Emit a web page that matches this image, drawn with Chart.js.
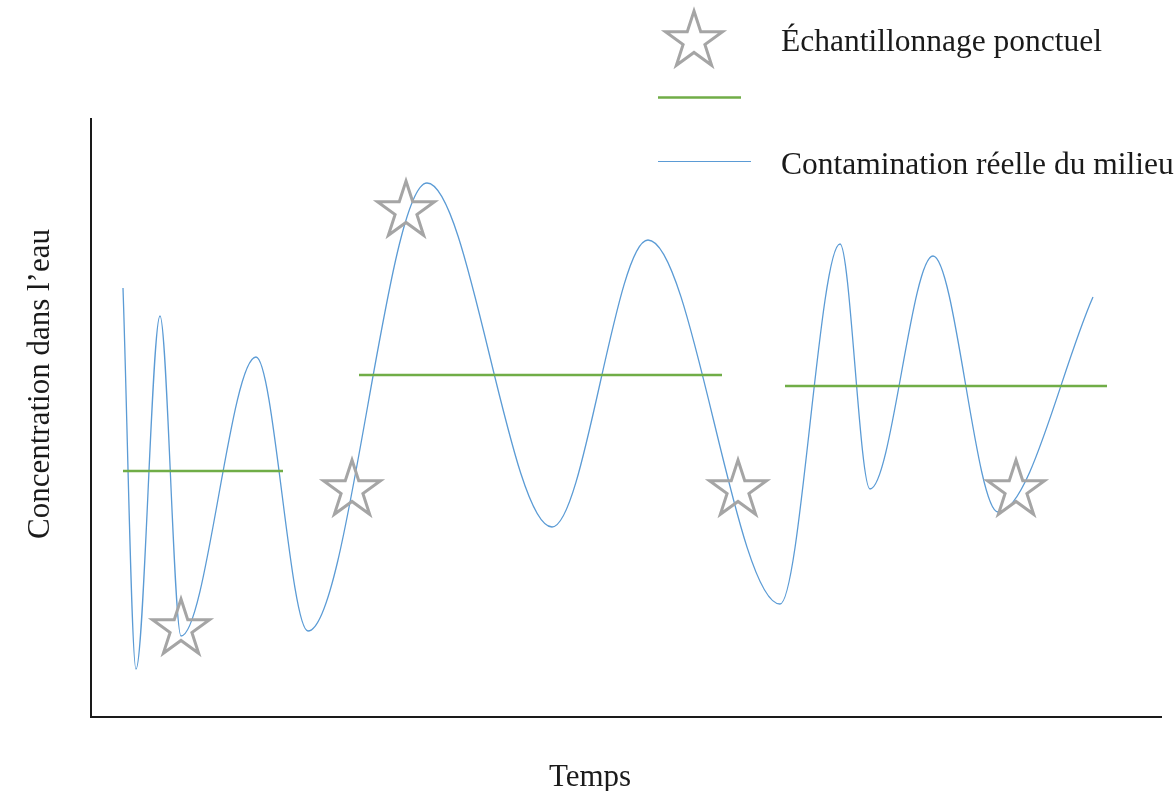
<!DOCTYPE html>
<html>
<head>
<meta charset="utf-8">
<script src="https://cdn.jsdelivr.net/npm/chart.js@4/dist/chart.umd.min.js"></script>
<style>
html,body{margin:0;padding:0;background:#fff;}
#wrap{width:1176px;height:791px;}
</style>
</head>
<body>
<div id="wrap"><canvas id="c" width="1176" height="791"></canvas></div>
<script>
// Time axis (arbitrary units) and concentration (arbitrary units)
const realTime = [32, 45, 69, 90, 165, 217, 336, 461, 557, 689, 749, 779, 842, 907, 1002];
const realConc = [429, 48, 401, 81, 360, 86, 534, 190, 477, 113, 473, 228, 461, 205, 420];

// Time-weighted averages over each exposure period (start, end, level)
const avgStart = [32, 268, 694];
const avgEnd   = [192, 631, 1016];
const avgLevel = [246, 342, 331];

// Grab samples
const sampleTime = [90, 261, 315, 647, 925];
const sampleConc = [88, 227, 506, 227, 227];

const legendLabels = ['Échantillonnage ponctuel', '', 'Contamination réelle du milieu'];
const xTitle = 'Temps';
const yTitle = 'Concentration dans l’eau';

const FONT = '"Liberation Serif", "Times New Roman", serif';
const TEXT_COLOR = '#1a1a1a';
const BLUE = '#5b9bd5';
const GREEN = '#70ad47';
const GRAY = '#a5a5a5';

function makeStar(R, lw, color) {
  const size = Math.ceil(2 * R + lw * 2 + 4);
  const cv = document.createElement('canvas');
  cv.width = size; cv.height = size;
  const g = cv.getContext('2d');
  const cx = size / 2, cy = size / 2;
  const r = R * 0.382;
  g.beginPath();
  for (let i = 0; i < 10; i++) {
    const rad = i % 2 === 0 ? R : r;
    const a = -Math.PI / 2 + i * Math.PI / 5;
    const px = cx + rad * Math.cos(a), py = cy + rad * Math.sin(a);
    if (i === 0) g.moveTo(px, py); else g.lineTo(px, py);
  }
  g.closePath();
  g.lineWidth = lw;
  g.lineJoin = 'miter';
  g.strokeStyle = color;
  g.stroke();
  return cv;
}
const starImg = makeStar(30, 3, GRAY);

const realData = realTime.map((t, i) => ({x: t, y: realConc[i]}));
const avgData = [];
avgStart.forEach((s, i) => {
  avgData.push({x: s, y: avgLevel[i]});
  avgData.push({x: avgEnd[i], y: avgLevel[i]});
  if (i < avgStart.length - 1) avgData.push({x: (avgEnd[i] + avgStart[i + 1]) / 2, y: null});
});
const sampleData = sampleTime.map((t, i) => ({x: t, y: sampleConc[i]}));

const decorPlugin = {
  id: 'decor',
  afterDraw(chart) {
    const ctx = chart.ctx;
    ctx.save();
    // Legend
    ctx.drawImage(starImg, 694 - starImg.width / 2, 41 - starImg.height / 2);
    ctx.strokeStyle = GREEN; ctx.lineWidth = 2.6;
    ctx.beginPath(); ctx.moveTo(658, 97.5); ctx.lineTo(741, 97.5); ctx.stroke();
    ctx.strokeStyle = BLUE; ctx.lineWidth = 1.2;
    ctx.beginPath(); ctx.moveTo(658, 161.5); ctx.lineTo(751, 161.5); ctx.stroke();
    ctx.fillStyle = TEXT_COLOR;
    ctx.font = '31.5px ' + FONT;
    ctx.textAlign = 'left'; ctx.textBaseline = 'alphabetic';
    ctx.fillText(legendLabels[0], 781, 51);
    ctx.fillText(legendLabels[2], 781, 174);
    // Axis titles
    ctx.font = '31px ' + FONT;
    ctx.textAlign = 'center';
    ctx.fillText(xTitle, 590, 786);
    ctx.translate(49, 384);
    ctx.rotate(-Math.PI / 2);
    ctx.fillText(yTitle, 0, 0);
    ctx.restore();
  }
};

new Chart(document.getElementById('c'), {
  type: 'scatter',
  data: {
    datasets: [
      {
        label: legendLabels[2],
        data: realData,
        showLine: true,
        borderColor: BLUE,
        borderWidth: 1.3,
        pointRadius: 0,
        cubicInterpolationMode: 'monotone',
        clip: false,
        order: 3
      },
      {
        label: legendLabels[1],
        data: avgData,
        showLine: true,
        spanGaps: false,
        borderColor: GREEN,
        borderWidth: 2.6,
        pointRadius: 0,
        clip: false,
        order: 2
      },
      {
        label: legendLabels[0],
        data: sampleData,
        showLine: false,
        pointStyle: starImg,
        pointRadius: 30,
        clip: false,
        order: 1
      }
    ]
  },
  options: {
    responsive: false,
    animation: false,
    events: [],
    layout: {autoPadding: false, padding: {left: 91, top: 119, right: 15, bottom: 74}},
    plugins: {legend: {display: false}, tooltip: {enabled: false}, title: {display: false}},
    scales: {
      x: {
        type: 'linear', min: 0, max: 1070,
        grid: {display: false, drawTicks: false},
        ticks: {display: false},
        border: {display: true, color: TEXT_COLOR, width: 2}
      },
      y: {
        type: 'linear', min: 0, max: 598,
        grid: {display: false, drawTicks: false},
        ticks: {display: false},
        border: {display: true, color: TEXT_COLOR, width: 2}
      }
    }
  },
  plugins: [decorPlugin]
});
</script>
</body>
</html>
